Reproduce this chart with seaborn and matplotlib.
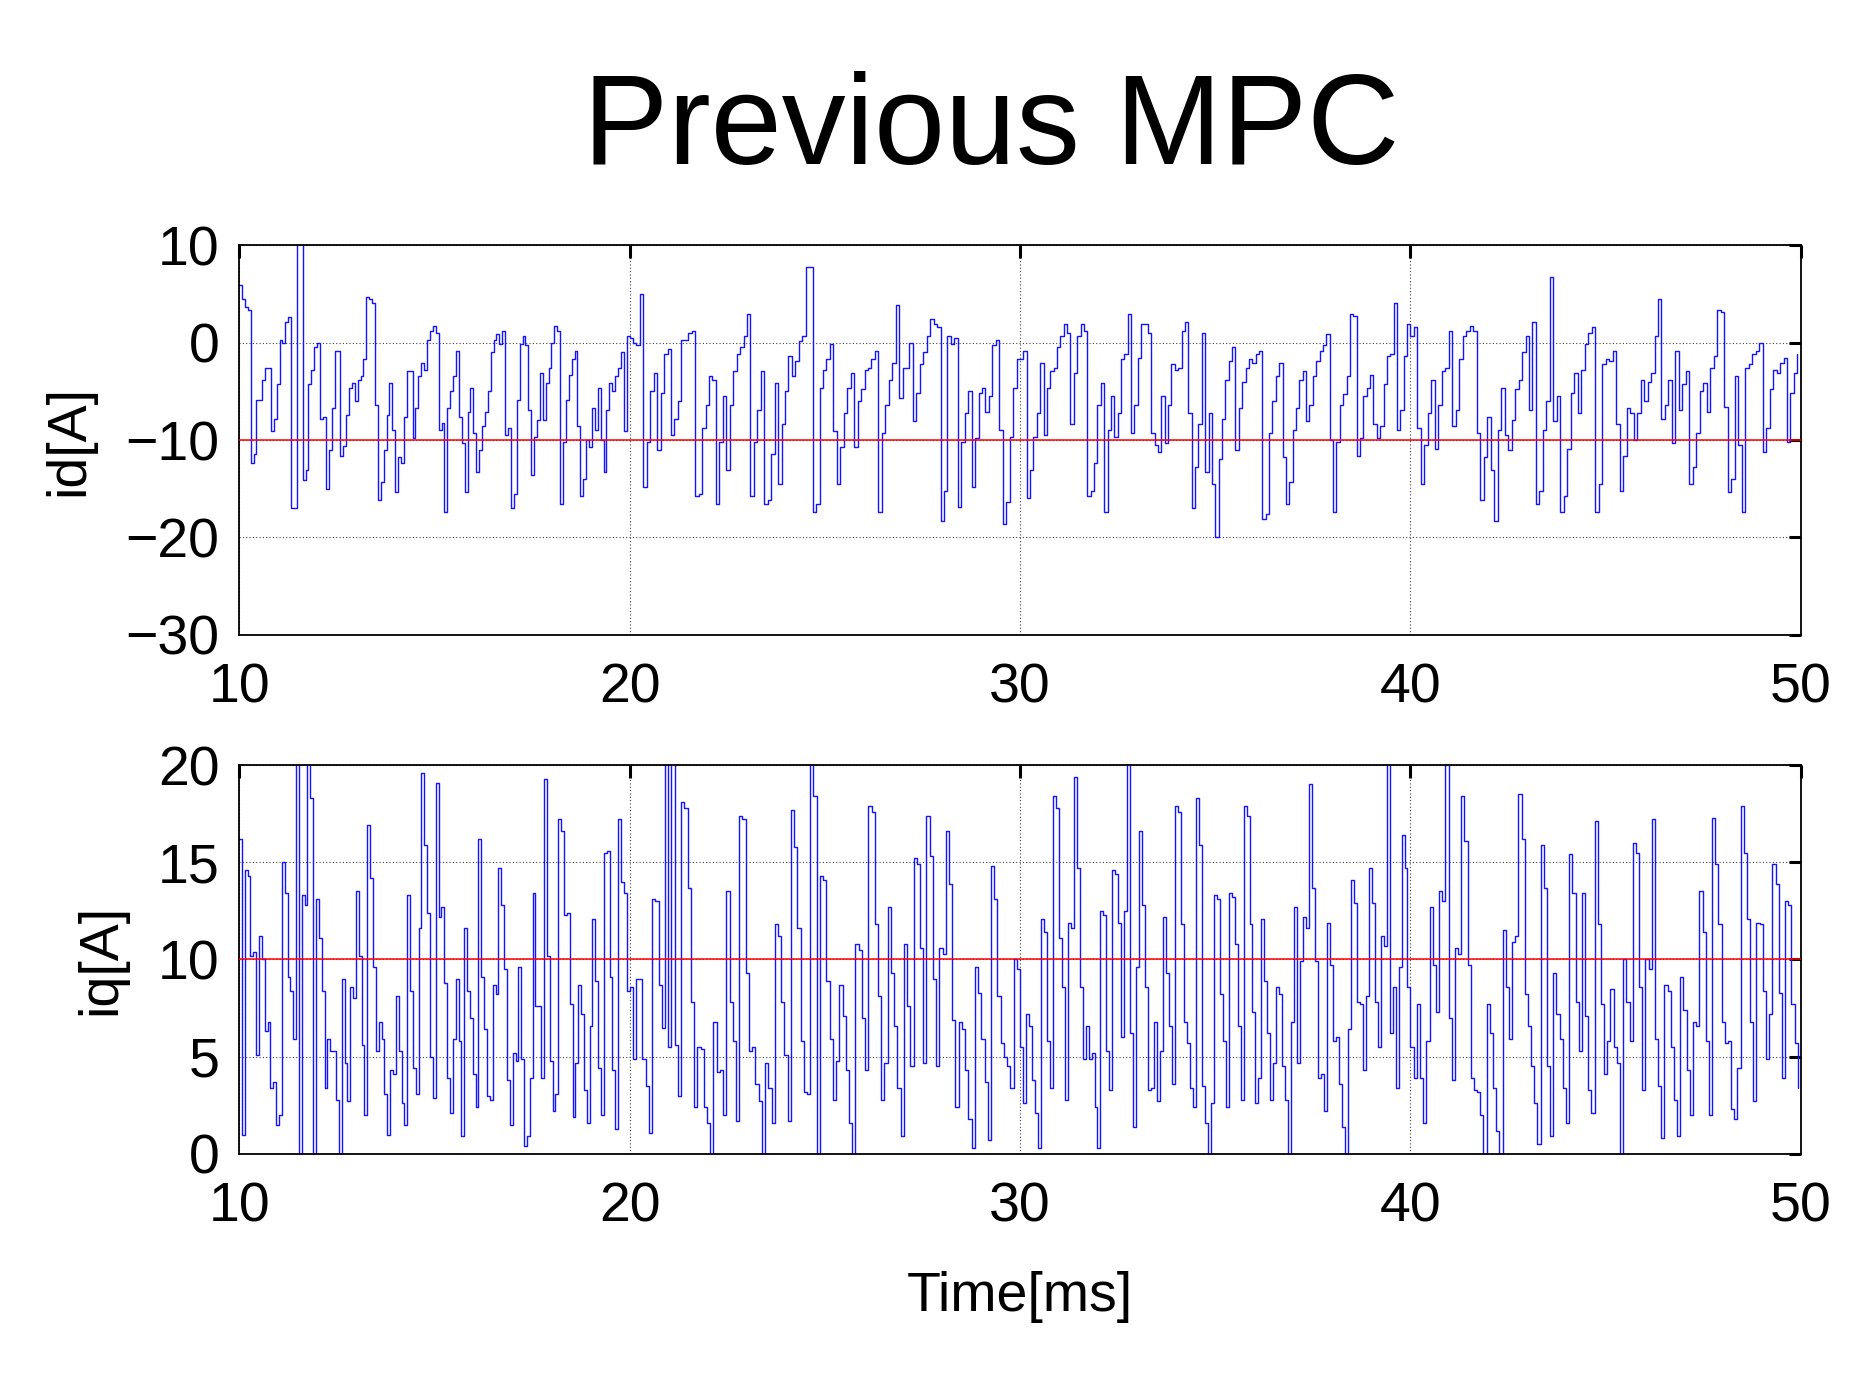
import numpy as np
import pandas as pd
import seaborn as sns
import matplotlib.pyplot as plt

# id [A], one list per 10 ms block
id_10_20 = [5.9, 4.5, 3.6, 3.3, -12.4, -11.4, -5.9, -5.9, -3.8, -2.6, -2.6, -9.1, -7.8, -4.3, 0.3, 0.0, 2.1, 2.6,
            -17.0, -17.0, 11.0, 11.0, -14.1, -13.1, -4.3, -2.8, -0.5, 0.0, -7.8, -7.6, -15.0, -11.0, -6.7, -0.9,
            -0.9, -11.6, -10.6, -7.4, -4.7, -4.1, -6.0, -3.8, -3.4, -1.7, 4.7, 4.5, 4.1, -6.4, -16.2, -14.3, -11.0,
            -7.4, -4.1, -9.0, -15.3, -11.7, -12.4, -7.6, -2.9, -2.9, -9.8, -6.7, -3.4, -2.1, -2.8, 0.3, 1.2, 1.7,
            1.0, -9.0, -8.3, -17.4, -6.7, -5.0, -3.4, -0.9, -7.6, -10.3, -15.3, -7.1, -4.7, -9.3, -13.3, -11.0,
            -8.6, -7.1, -5.0, -1.0, 0.3, 0.9, -0.2, 1.2, -9.5, -8.8, -17.0, -15.5, -5.9, -0.2, 0.7, -0.3, -6.9,
            -13.6, -9.7, -7.9, -3.1, -7.9, -4.1, -2.6, 0.0, 1.7, 1.2, -16.6, -10.2, -5.9, -3.3, -1.7, -0.9, -8.6,
            -15.7, -14.0, -10.0, -10.7, -6.7, -9.0, -4.7, -10.0, -13.3, -6.9, -4.1, -5.0, -3.4, -2.6, -1.0, -9.1, 0.7]
id_20_30 = [0.5, 0.0, -0.3, 5.0, -14.8, -10.2, -5.0, -3.1, -11.0, -5.2, -1.2, -0.7, -9.5, -7.8, -6.0, 0.3, 0.3, 1.0,
            1.2, -15.7, -15.5, -8.8, -6.4, -3.4, -3.8, -16.6, -10.2, -5.5, -13.1, -6.4, -2.9, -1.2, -0.5, 0.7, 2.9,
            -15.7, -10.2, -6.9, -2.9, -16.6, -16.2, -11.4, -4.1, -14.5, -8.4, -5.0, -1.4, -3.4, -1.9, 0.2, 0.7, 7.8,
            7.8, -17.4, -16.6, -4.7, -2.8, -1.7, -0.2, -9.1, -14.5, -10.7, -7.2, -4.7, -3.1, -10.7, -6.0, -4.8,
            -2.8, -2.6, -1.7, -0.9, -17.4, -9.3, -6.4, -3.8, -2.1, 3.8, -5.7, -2.6, -2.6, 0.0, -8.1, -5.2, -2.2,
            -1.0, 0.7, 2.4, 1.9, 1.6, -18.3, -15.2, 0.7, -0.2, 0.5, -16.9, -10.2, -7.2, -5.0, -14.8, -9.8, -5.2,
            -4.7, -7.1, -5.5, -0.3, 0.3, -9.0, -18.6, -16.4, -9.7, -4.7, -1.7]
id_30_40 = [-1.7, -0.9, -15.9, -13.1, -9.7, -7.2, -2.1, -9.5, -4.7, -2.9, -2.6, -0.5, 0.7, 1.9, 1.0, -8.4, -3.1, 0.7,
            1.9, 1.2, -15.7, -15.2, -12.4, -6.4, -4.1, -17.4, -9.0, -5.5, -9.7, -7.2, -1.7, -1.2, 2.9, -9.3, -6.4,
            -1.6, 1.9, 1.9, 1.0, -9.3, -10.5, -11.2, -5.5, -10.3, -6.4, -2.2, -2.8, -2.6, 1.2, 2.1, -7.2, -17.0,
            -12.8, -8.4, 1.0, -13.3, -7.2, -14.5, -20.0, -11.9, -7.8, -3.8, -1.9, -0.5, -11.0, -6.7, -4.0, -2.6,
            -1.7, -2.1, -1.2, -0.9, -18.1, -17.6, -9.3, -6.0, -3.4, -2.1, -11.7, -16.6, -14.3, -9.0, -6.7, -3.8,
            -2.9, -8.1, -6.4, -3.4, -1.9, -0.9, -0.3, 0.9, -10.0, -17.4, -10.2, -6.4, -5.3, -3.4, 2.9, 2.7, -11.6,
            -9.8, -5.5, -4.7, -3.3, -8.4, -9.8, -8.6, -4.3, -1.4, -1.2, 4.1, -9.0, -6.9, -1.4, 1.9]
id_40_50 = [0.7, 1.6, -8.8, -14.5, -10.5, -7.2, -3.8, -10.9, -6.4, -2.9, -2.6, 1.2, -8.6, -6.9, -1.7, 0.7, 1.2, 1.7,
            1.2, -9.3, -16.2, -11.7, -7.6, -13.1, -18.3, -9.0, -4.7, -9.5, -11.0, -7.9, -4.8, -3.8, -1.0, 0.7, -6.9,
            2.1, -16.6, -15.2, -9.0, -6.0, 6.7, -8.1, -5.5, -17.4, -15.7, -10.9, -5.2, -3.1, -7.2, -2.8, -0.2, 1.0,
            1.6, -17.4, -14.5, -2.2, -1.7, -1.9, -0.9, -8.4, -15.2, -11.6, -6.7, -7.2, -10.0, -7.2, -3.8, -6.0,
            -4.0, -3.1, 0.7, 4.5, -7.8, -6.4, -3.8, -10.3, -0.9, -6.9, -4.3, -2.9, -14.5, -12.8, -9.3, -5.0, -4.1,
            -7.1, -2.6, -1.4, 3.3, 3.1, -6.6, -15.3, -14.0, -3.4, -10.5, -17.4, -2.6, -2.2, -1.2, -0.9, 0.0, -11.2,
            -8.8, -4.8, -2.8, -3.1, -2.1, -1.6, -10.2, -5.2, -3.1, -1.2]

# iq [A]
iq_10_20 = [16.2, 1.0, 14.6, 14.3, 10.2, 10.4, 5.1, 11.2, 10.0, 6.3, 6.8, 3.4, 3.7, 1.5, 2.0, 15.0, 13.4, 9.1, 8.4,
            5.9, 21.0, -1.0, 13.3, 12.8, 21.0, 18.3, -1.0, 13.1, 11.1, 8.4, 3.4, 5.9, 5.3, 5.3, 2.8, 0.0, 9.0, 4.7,
            2.7, 8.6, 8.0, 13.5, 10.2, 5.6, 2.0, 16.9, 14.2, 9.6, 5.3, 6.8, 5.9, 3.1, 1.0, 4.3, 4.1, 8.1, 5.3, 2.6,
            1.5, 13.3, 8.4, 4.4, 3.1, 11.6, 19.6, 15.9, 12.4, 5.0, 2.9, 19.1, 12.2, 12.7, 8.8, 3.9, 2.1, 5.9, 9.0,
            5.8, 0.9, 11.6, 8.4, 7.0, 4.1, 2.4, 16.2, 9.1, 6.4, 3.0, 2.8, 8.7, 8.2, 14.7, 12.8, 9.5, 3.8, 1.5, 5.2,
            4.8, 9.6, 4.9, 0.4, 0.9, 3.9, 13.4, 7.6, 7.6, 3.9, 19.3, 10.2, 4.8, 2.2, 3.1, 17.2, 16.6, 12.3, 12.4,
            7.7, 1.9, 4.7, 8.7, 7.2, 3.3, 1.6, 6.6, 12.1, 8.9, 4.4, 2.0, 15.5, 15.6, 9.1, 4.3, 1.3, 17.2, 14.0,
            13.4, 8.4]
iq_20_30 = [8.6, 4.9, 9.0, 9.0, 4.9, 3.5, 1.1, 13.1, 13.0, 8.7, 6.5, 21.0, 5.5, 21.0, 5.6, 3.0, 18.1, 17.8, 13.7,
            7.8, 2.4, 5.5, 5.4, 2.4, 1.6, -1.0, 6.8, 4.2, 4.3, 2.0, 13.5, 7.8, 5.8, 1.7, 17.4, 17.2, 9.3, 5.3, 5.5,
            3.6, 2.7, -1.0, 4.7, 3.4, 1.6, 11.8, 11.2, 7.8, 5.1, 1.7, 17.7, 15.8, 11.6, 5.8, 3.2, 3.1, 21.0, 18.4,
            -1.0, 14.3, 14.1, 8.9, 5.9, 2.8, 4.8, 8.7, 7.1, 4.3, 1.6, -1.0, 10.8, 10.5, 7.0, 4.3, 17.9, 17.6, 11.8,
            8.1, 2.8, 4.7, 12.7, 9.3, 6.6, 3.4, 0.9, 10.8, 7.6, 4.5, 15.2, 14.9, 10.6, 4.7, 17.4, 15.3, 9.0, 4.5,
            10.6, 10.3, 16.6, 13.9, 6.9, 2.4, 6.8, 6.4, 4.3, 1.8, 0.3, 9.6, 8.3, 5.9, 3.7, 0.7, 14.8, 13.1, 8.1,
            5.7, 5.0, 4.5, 3.4, 10.0, 9.5]
iq_30_40 = [5.5, 2.6, 7.2, 6.6, 3.8, 2.1, 0.3, 12.1, 11.4, 5.8, 3.4, 18.4, 17.8, 11.1, 8.6, 2.8, 11.9, 11.6, 19.4,
            14.7, 8.6, 4.9, 6.6, 4.9, 5.2, 2.4, 0.3, 12.5, 12.3, 5.3, 3.3, 14.6, 14.4, 11.9, 6.0, 12.5, 21.0, 6.2,
            1.4, 9.6, 16.6, 12.8, 8.6, 3.3, 3.4, 6.8, 2.7, 5.3, 12.2, 9.3, 6.6, 3.6, 17.9, 17.6, 11.8, 6.8, 5.7,
            3.4, 2.4, 18.3, 15.9, 3.5, 1.6, -1.0, 2.6, 13.3, 13.1, 8.2, 5.8, 2.4, 13.4, 13.2, 10.8, 6.6, 2.8, 17.9,
            17.4, 11.8, 7.3, 2.6, 3.9, 12.1, 8.9, 6.2, 2.8, 4.7, 8.6, 8.2, 4.5, 2.8, -1.0, 6.8, 12.7, 4.7, 9.9, 12.2,
            11.6, 19.0, 13.7, 9.9, 3.9, 4.1, 2.2, 11.9, 9.7, 5.8, 6.0, 3.6, 1.4, -1.0, 6.4, 14.1, 12.9, 7.8, 7.7,
            4.3, 8.1, 14.7, 12.9, 7.8, 5.5, 11.2, 10.7, 21.0, 6.2, 8.6, 3.4, 9.6, 16.4, 14.7, 8.6]
iq_40_50 = [5.5, 3.9, 7.7, 3.9, 1.6, 5.8, 12.7, 9.7, 7.3, 13.5, 13.0, 21.0, 7.0, 3.8, 10.6, 10.3, 18.4, 16.1, 9.7,
            3.9, 3.3, 3.2, 2.0, 0.0, 7.7, 6.2, 3.4, 1.2, -1.0, 11.5, 8.6, 5.9, 10.9, 11.2, 18.5, 16.2, 8.2, 6.6,
            4.5, 2.6, 0.5, 15.9, 13.7, 4.5, 0.9, 9.3, 7.2, 5.9, 3.4, 1.6, 15.4, 13.4, 7.8, 5.3, 13.4, 7.1, 3.3, 2.1,
            17.1, 11.8, 7.7, 4.1, 5.8, 8.5, 5.5, 4.7, -1.0, 10.0, 7.8, 5.8, 16.0, 15.5, 8.6, 3.3, 10.0, 9.5, 17.2,
            5.9, 3.5, 0.8, 8.7, 8.4, 5.5, 2.8, 0.9, 9.1, 7.4, 4.3, 2.0, 6.8, 6.6, 13.5, 11.4, 5.8, 2.0, 17.3, 14.9,
            11.8, 6.8, 5.7, 5.8, 2.3, 1.8, 4.4, 17.9, 15.5, 12.1, 6.8, 2.7, 11.9, 11.8, 8.4, 4.9, 7.2, 14.9, 13.9,
            8.3, 3.9, 13.0, 12.8, 7.7, 5.7, 3.4]

block_starts = [10, 20, 30, 40]
id_ref = -10
iq_ref = 10


def to_frame(blocks):
    parts = []
    for start, vals in zip(block_starts, blocks):
        t = np.linspace(start, start + 10, len(vals), endpoint=False)
        parts.append(pd.DataFrame({"t": t, "v": vals}))
    return pd.concat(parts, ignore_index=True)


id_df = to_frame([id_10_20, id_20_30, id_30_40, id_40_50])
iq_df = to_frame([iq_10_20, iq_20_30, iq_30_40, iq_40_50])

sns.set_style("white")
plt.rcParams["font.family"] = ["Liberation Sans", "DejaVu Sans"]
plt.rcParams.update({
    "text.color": "black",
    "axes.labelcolor": "black",
    "xtick.color": "black",
    "ytick.color": "black"})

fig = plt.figure(figsize=(18.75, 13.94), dpi=100)
ax1 = fig.add_axes([0.1275, 0.5445, 0.833, 0.2797])
ax2 = fig.add_axes([0.1275, 0.1722, 0.833, 0.2790])


def style(ax, ylim, yticks):
    ax.set_xlim(10, 50)
    ax.set_ylim(*ylim)
    ax.set_xticks([10, 20, 30, 40, 50])
    ax.set_yticks(yticks)
    ax.grid(True, color="#444444", linestyle=(0, (1, 2)), linewidth=0.8)
    ax.tick_params(axis="both", which="major", direction="in", length=9, width=2.2,
                   top=True, right=True, labelsize=40, colors="black")
    ax.tick_params(axis="x", pad=20)
    ax.tick_params(axis="y", pad=14)
    for s in ax.spines.values():
        s.set_color("black")
        s.set_linewidth(1.3)


sns.lineplot(data=id_df, x="t", y="v", ax=ax1, estimator=None, sort=False,
             drawstyle="steps-post", color="#1414ff", linewidth=1.0)
ax1.axhline(id_ref, color="red", linewidth=1.1, zorder=3)
style(ax1, (-30, 10), [-30, -20, -10, 0, 10])
ax1.set_xlabel("")
ax1.set_ylabel("id[A]", fontsize=40, labelpad=22)

sns.lineplot(data=iq_df, x="t", y="v", ax=ax2, estimator=None, sort=False,
             drawstyle="steps-post", color="#1414ff", linewidth=1.0)
ax2.axhline(iq_ref, color="red", linewidth=1.1, zorder=3)
style(ax2, (0, 20), [0, 5, 10, 15, 20])
ax2.set_xlabel("Time[ms]", fontsize=40, labelpad=27)
ax2.set_ylabel("iq[A]", fontsize=40, labelpad=22)

fig.text(0.5285, 0.8824, "Previous MPC", fontsize=92, ha="center", va="baseline")

fig.savefig("out.png", dpi=100)
